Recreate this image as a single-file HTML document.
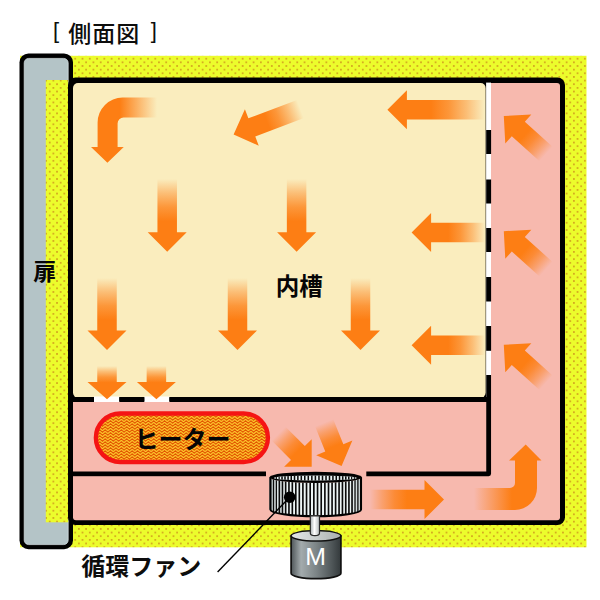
<!DOCTYPE html>
<html><head><meta charset="utf-8"><title>side view</title>
<style>html,body{margin:0;padding:0;background:#fff;font-family:"Liberation Sans",sans-serif}svg{display:block}</style>
</head><body>
<svg width="600" height="600" viewBox="0 0 600 600">
<defs>
<pattern id="dots" patternUnits="userSpaceOnUse" x="81.6" y="57.800000000000004" width="7.28" height="7.29"><rect width="7.28" height="7.29" fill="#ECFC2C"/><rect x="0" y="0" width="1.8" height="1.8" rx="0.8" fill="#F6A01E" fill-opacity="0.3"/><rect x="3.640" y="3.645" width="1.8" height="1.8" rx="0.8" fill="#F6A01E" fill-opacity="0.3"/><rect x="0.4" y="0.4" width="1" height="1" fill="#9C2A0C"/><rect x="4.040" y="4.045" width="1" height="1" fill="#9C2A0C"/></pattern>
<pattern id="zig" patternUnits="userSpaceOnUse" x="93" y="411" width="5.4" height="3"><rect width="5.4" height="3" fill="#FFCF30"/><path d="M-1.35,3.2L1.35,0.8L4.05,3.2L6.75,0.8" fill="none" stroke="#E25400" stroke-width="1.12"/><path d="M-1.35,0.2L1.35,-2.2L4.05,0.2L6.75,-2.2" fill="none" stroke="#E25400" stroke-width="1.12"/></pattern>
<pattern id="bars" patternUnits="userSpaceOnUse" x="269.6" y="0" width="2.2" height="10"><rect width="2.2" height="10" fill="#F4F4F4"/><rect x="0" width="1.1" height="10" fill="#111"/></pattern>
<linearGradient id="a1" gradientUnits="userSpaceOnUse" x1="0" y1="0" x2="72.70" y2="0"><stop offset="0" stop-color="#FD7E14" stop-opacity="0"/><stop offset="0.193" stop-color="#FD7E14" stop-opacity="0.42"/><stop offset="0.387" stop-color="#FD7E14" stop-opacity="0.78"/><stop offset="0.58" stop-color="#FD7E14" stop-opacity="1"/><stop offset="1" stop-color="#FD7E14" stop-opacity="1"/></linearGradient>
<linearGradient id="a2" gradientUnits="userSpaceOnUse" x1="0" y1="0" x2="72.70" y2="0"><stop offset="0" stop-color="#FD7E14" stop-opacity="0"/><stop offset="0.193" stop-color="#FD7E14" stop-opacity="0.42"/><stop offset="0.387" stop-color="#FD7E14" stop-opacity="0.78"/><stop offset="0.58" stop-color="#FD7E14" stop-opacity="1"/><stop offset="1" stop-color="#FD7E14" stop-opacity="1"/></linearGradient>
<linearGradient id="a3" gradientUnits="userSpaceOnUse" x1="0" y1="0" x2="72.00" y2="0"><stop offset="0" stop-color="#FD7E14" stop-opacity="0"/><stop offset="0.193" stop-color="#FD7E14" stop-opacity="0.42"/><stop offset="0.387" stop-color="#FD7E14" stop-opacity="0.78"/><stop offset="0.58" stop-color="#FD7E14" stop-opacity="1"/><stop offset="1" stop-color="#FD7E14" stop-opacity="1"/></linearGradient>
<linearGradient id="a4" gradientUnits="userSpaceOnUse" x1="0" y1="0" x2="72.00" y2="0"><stop offset="0" stop-color="#FD7E14" stop-opacity="0"/><stop offset="0.193" stop-color="#FD7E14" stop-opacity="0.42"/><stop offset="0.387" stop-color="#FD7E14" stop-opacity="0.78"/><stop offset="0.58" stop-color="#FD7E14" stop-opacity="1"/><stop offset="1" stop-color="#FD7E14" stop-opacity="1"/></linearGradient>
<linearGradient id="a5" gradientUnits="userSpaceOnUse" x1="0" y1="0" x2="72.00" y2="0"><stop offset="0" stop-color="#FD7E14" stop-opacity="0"/><stop offset="0.193" stop-color="#FD7E14" stop-opacity="0.42"/><stop offset="0.387" stop-color="#FD7E14" stop-opacity="0.78"/><stop offset="0.58" stop-color="#FD7E14" stop-opacity="1"/><stop offset="1" stop-color="#FD7E14" stop-opacity="1"/></linearGradient>
<linearGradient id="a6" gradientUnits="userSpaceOnUse" x1="0" y1="0" x2="33.20" y2="0"><stop offset="0" stop-color="#FD7E14" stop-opacity="0"/><stop offset="0.167" stop-color="#FD7E14" stop-opacity="0.42"/><stop offset="0.333" stop-color="#FD7E14" stop-opacity="0.78"/><stop offset="0.5" stop-color="#FD7E14" stop-opacity="1"/><stop offset="1" stop-color="#FD7E14" stop-opacity="1"/></linearGradient>
<linearGradient id="a7" gradientUnits="userSpaceOnUse" x1="0" y1="0" x2="33.20" y2="0"><stop offset="0" stop-color="#FD7E14" stop-opacity="0"/><stop offset="0.167" stop-color="#FD7E14" stop-opacity="0.42"/><stop offset="0.333" stop-color="#FD7E14" stop-opacity="0.78"/><stop offset="0.5" stop-color="#FD7E14" stop-opacity="1"/><stop offset="1" stop-color="#FD7E14" stop-opacity="1"/></linearGradient>
<linearGradient id="a8" gradientUnits="userSpaceOnUse" x1="0" y1="0" x2="97.10" y2="0"><stop offset="0" stop-color="#FD7E14" stop-opacity="0"/><stop offset="0.183" stop-color="#FD7E14" stop-opacity="0.42"/><stop offset="0.367" stop-color="#FD7E14" stop-opacity="0.78"/><stop offset="0.55" stop-color="#FD7E14" stop-opacity="1"/><stop offset="1" stop-color="#FD7E14" stop-opacity="1"/></linearGradient>
<linearGradient id="a9" gradientUnits="userSpaceOnUse" x1="0" y1="0" x2="73.40" y2="0"><stop offset="0" stop-color="#FD7E14" stop-opacity="0"/><stop offset="0.167" stop-color="#FD7E14" stop-opacity="0.42"/><stop offset="0.333" stop-color="#FD7E14" stop-opacity="0.78"/><stop offset="0.5" stop-color="#FD7E14" stop-opacity="1"/><stop offset="1" stop-color="#FD7E14" stop-opacity="1"/></linearGradient>
<linearGradient id="a10" gradientUnits="userSpaceOnUse" x1="0" y1="0" x2="73.40" y2="0"><stop offset="0" stop-color="#FD7E14" stop-opacity="0"/><stop offset="0.167" stop-color="#FD7E14" stop-opacity="0.42"/><stop offset="0.333" stop-color="#FD7E14" stop-opacity="0.78"/><stop offset="0.5" stop-color="#FD7E14" stop-opacity="1"/><stop offset="1" stop-color="#FD7E14" stop-opacity="1"/></linearGradient>
<linearGradient id="a11" gradientUnits="userSpaceOnUse" x1="0" y1="0" x2="71.56" y2="0"><stop offset="0" stop-color="#FD7E14" stop-opacity="0"/><stop offset="0.167" stop-color="#FD7E14" stop-opacity="0.42"/><stop offset="0.333" stop-color="#FD7E14" stop-opacity="0.78"/><stop offset="0.5" stop-color="#FD7E14" stop-opacity="1"/><stop offset="1" stop-color="#FD7E14" stop-opacity="1"/></linearGradient>
<linearGradient id="d0" gradientUnits="userSpaceOnUse" x1="0" y1="0" x2="56.86" y2="0"><stop offset="0" stop-color="#FD7E14" stop-opacity="0"/><stop offset="0.167" stop-color="#FD7E14" stop-opacity="0.42"/><stop offset="0.333" stop-color="#FD7E14" stop-opacity="0.78"/><stop offset="0.5" stop-color="#FD7E14" stop-opacity="1"/><stop offset="1" stop-color="#FD7E14" stop-opacity="1"/></linearGradient>
<linearGradient id="d1" gradientUnits="userSpaceOnUse" x1="0" y1="0" x2="56.86" y2="0"><stop offset="0" stop-color="#FD7E14" stop-opacity="0"/><stop offset="0.167" stop-color="#FD7E14" stop-opacity="0.42"/><stop offset="0.333" stop-color="#FD7E14" stop-opacity="0.78"/><stop offset="0.5" stop-color="#FD7E14" stop-opacity="1"/><stop offset="1" stop-color="#FD7E14" stop-opacity="1"/></linearGradient>
<linearGradient id="d2" gradientUnits="userSpaceOnUse" x1="0" y1="0" x2="56.86" y2="0"><stop offset="0" stop-color="#FD7E14" stop-opacity="0"/><stop offset="0.167" stop-color="#FD7E14" stop-opacity="0.42"/><stop offset="0.333" stop-color="#FD7E14" stop-opacity="0.78"/><stop offset="0.5" stop-color="#FD7E14" stop-opacity="1"/><stop offset="1" stop-color="#FD7E14" stop-opacity="1"/></linearGradient>
<linearGradient id="h1" gradientUnits="userSpaceOnUse" x1="0" y1="0" x2="46.81" y2="0"><stop offset="0" stop-color="#FD7E14" stop-opacity="0"/><stop offset="0.183" stop-color="#FD7E14" stop-opacity="0.42"/><stop offset="0.367" stop-color="#FD7E14" stop-opacity="0.78"/><stop offset="0.55" stop-color="#FD7E14" stop-opacity="1"/><stop offset="1" stop-color="#FD7E14" stop-opacity="1"/></linearGradient>
<linearGradient id="h2" gradientUnits="userSpaceOnUse" x1="0" y1="0" x2="46.70" y2="0"><stop offset="0" stop-color="#FD7E14" stop-opacity="0"/><stop offset="0.183" stop-color="#FD7E14" stop-opacity="0.42"/><stop offset="0.367" stop-color="#FD7E14" stop-opacity="0.78"/><stop offset="0.55" stop-color="#FD7E14" stop-opacity="1"/><stop offset="1" stop-color="#FD7E14" stop-opacity="1"/></linearGradient>
<linearGradient id="b1" gradientUnits="userSpaceOnUse" x1="0" y1="0" x2="74.00" y2="0"><stop offset="0" stop-color="#FD7E14" stop-opacity="0"/><stop offset="0.167" stop-color="#FD7E14" stop-opacity="0.42"/><stop offset="0.333" stop-color="#FD7E14" stop-opacity="0.78"/><stop offset="0.5" stop-color="#FD7E14" stop-opacity="1"/><stop offset="1" stop-color="#FD7E14" stop-opacity="1"/></linearGradient>
<linearGradient id="c1" gradientUnits="userSpaceOnUse" x1="157" y1="0" x2="97" y2="0"><stop offset="0" stop-color="#FD7E14" stop-opacity="0"/><stop offset="0.62" stop-color="#FD7E14"/><stop offset="1" stop-color="#FD7E14"/></linearGradient>
<linearGradient id="c2" gradientUnits="userSpaceOnUse" x1="474" y1="0" x2="537" y2="0"><stop offset="0" stop-color="#FD7E14" stop-opacity="0"/><stop offset="0.6" stop-color="#FD7E14"/><stop offset="1" stop-color="#FD7E14"/></linearGradient>
<clipPath id="fanclip"><path d="M269.4,477.3A46.3,5.6 0 0 0 362.0,477.3L362.0,509.5A46.3,6.8 0 0 1 269.4,509.5Z"/></clipPath>
<clipPath id="fantop"><ellipse cx="315.4" cy="478" rx="41.6" ry="2.45"/></clipPath>
<linearGradient id="fang" x1="0" y1="0" x2="1" y2="0"><stop offset="0" stop-color="#b4bebe"/><stop offset="0.15" stop-color="#eef6f6"/><stop offset="0.85" stop-color="#eef6f6"/><stop offset="1" stop-color="#b4bebe"/></linearGradient>
<linearGradient id="shaft" x1="0" y1="0" x2="1" y2="0"><stop offset="0" stop-color="#a9b0b2"/><stop offset="0.45" stop-color="#ffffff"/><stop offset="1" stop-color="#b4babb"/></linearGradient>
<linearGradient id="motor" x1="0" y1="0" x2="1" y2="0"><stop offset="0" stop-color="#4e5558"/><stop offset="0.2" stop-color="#a3abad"/><stop offset="0.5" stop-color="#7d8587"/><stop offset="0.8" stop-color="#52595b"/><stop offset="1" stop-color="#33393b"/></linearGradient>
<linearGradient id="mtop" x1="0" y1="0" x2="1" y2="0"><stop offset="0" stop-color="#e4e8e8"/><stop offset="0.5" stop-color="#c8cdcd"/><stop offset="1" stop-color="#a9afaf"/></linearGradient>
</defs>
<rect width="600" height="600" fill="#fff"/>
<rect x="20" y="55.8" width="566.5" height="491.5" fill="url(#dots)"/>
<rect x="19.5" y="53.4" width="53.5" height="495.8" rx="9" ry="9" fill="#000"/>
<rect x="24.2" y="58.4" width="44" height="486.2" rx="4.5" ry="4.5" fill="#B4C4C7" stroke="#DCE6EA" stroke-width="0.7"/>
<rect x="45.8" y="80" width="22.4" height="442.3" fill="url(#dots)"/>
<rect x="68" y="77.6" width="497" height="447.4" rx="7.5" ry="7.5" fill="#000"/>
<rect x="73" y="83" width="487" height="437.2" rx="3" ry="3" fill="#F7B9AE"/>
<rect x="72" y="82" width="120" height="319" fill="#000"/><rect x="486" y="82.6" width="5" height="318" fill="#fff"/><rect x="470" y="82" width="16.1" height="318" fill="#000"/>
<rect x="73" y="83" width="412.65" height="314.6" rx="5" ry="5" fill="#FAEDBE"/>
<rect x="94" y="396.5" width="25.3" height="5.5" fill="#fff"/><rect x="144.3" y="396.5" width="25.1" height="5.5" fill="#fff"/>
<rect x="72" y="397" width="22.00" height="5" fill="#000"/>
<rect x="119.3" y="397" width="25.00" height="5" fill="#000"/>
<rect x="169.4" y="397" width="321.60" height="5" fill="#000"/>
<rect x="486.2" y="130" width="4.9" height="24.00" fill="#000"/>
<rect x="486.2" y="179.5" width="4.9" height="24.00" fill="#000"/>
<rect x="486.2" y="228" width="4.9" height="24.00" fill="#000"/>
<rect x="486.2" y="277" width="4.9" height="24.50" fill="#000"/>
<rect x="486.2" y="326" width="4.9" height="24.80" fill="#000"/>
<rect x="72" y="471.5" width="194" height="4.7" fill="#000"/>
<path d="M366.3,473.85L488.65,473.85L488.65,375" fill="none" stroke="#000" stroke-width="4.8" stroke-linejoin="round"/>
<rect x="95.9" y="413.5" width="172" height="48.5" rx="24.25" ry="24.25" fill="url(#zig)" stroke="#F51414" stroke-width="4.4"/>
<path transform="translate(167.20,179.00) rotate(90.00)" d="M0,-9.75L53.20,-9.75L53.20,-19.5L72.70,0L53.20,19.5L53.20,9.75L0,9.75Z" fill="url(#a1)"/>
<path transform="translate(296.60,179.00) rotate(90.00)" d="M0,-9.75L53.20,-9.75L53.20,-19.5L72.70,0L53.20,19.5L53.20,9.75L0,9.75Z" fill="url(#a2)"/>
<path transform="translate(107.00,278.00) rotate(90.00)" d="M0,-9.75L52.50,-9.75L52.50,-19.5L72.00,0L52.50,19.5L52.50,9.75L0,9.75Z" fill="url(#a3)"/>
<path transform="translate(237.50,278.00) rotate(90.00)" d="M0,-9.75L52.50,-9.75L52.50,-19.5L72.00,0L52.50,19.5L52.50,9.75L0,9.75Z" fill="url(#a4)"/>
<path transform="translate(360.50,278.00) rotate(90.00)" d="M0,-9.75L52.50,-9.75L52.50,-19.5L72.00,0L52.50,19.5L52.50,9.75L0,9.75Z" fill="url(#a5)"/>
<path transform="translate(107.00,366.00) rotate(90.00)" d="M0,-9.75L16.00,-9.75L16.00,-19.5L33.20,0L16.00,19.5L16.00,9.75L0,9.75Z" fill="url(#a6)"/>
<path transform="translate(156.40,366.00) rotate(90.00)" d="M0,-9.75L16.00,-9.75L16.00,-19.5L33.20,0L16.00,19.5L16.00,9.75L0,9.75Z" fill="url(#a7)"/>
<path transform="translate(484.50,109.80) rotate(180.00)" d="M0,-9.75L77.60,-9.75L77.60,-19.5L97.10,0L77.60,19.5L77.60,9.75L0,9.75Z" fill="url(#a8)"/>
<path transform="translate(485.00,232.60) rotate(180.00)" d="M0,-9.75L53.90,-9.75L53.90,-19.5L73.40,0L53.90,19.5L53.90,9.75L0,9.75Z" fill="url(#a9)"/>
<path transform="translate(485.00,345.30) rotate(180.00)" d="M0,-9.75L53.90,-9.75L53.90,-19.5L73.40,0L53.90,19.5L53.90,9.75L0,9.75Z" fill="url(#a10)"/>
<path transform="translate(300.50,109.00) rotate(159.21)" d="M0,-9.75L52.06,-9.75L52.06,-19.5L71.56,0L52.06,19.5L52.06,9.75L0,9.75Z" fill="url(#a11)"/>
<path transform="translate(546.10,154.00) rotate(-138.07)" d="M0,-9.75L37.36,-9.75L37.36,-19.5L56.86,0L37.36,19.5L37.36,9.75L0,9.75Z" fill="url(#d0)"/>
<path transform="translate(546.10,269.20) rotate(-138.07)" d="M0,-9.75L37.36,-9.75L37.36,-19.5L56.86,0L37.36,19.5L37.36,9.75L0,9.75Z" fill="url(#d1)"/>
<path transform="translate(546.10,382.80) rotate(-138.07)" d="M0,-9.75L37.36,-9.75L37.36,-19.5L56.86,0L37.36,19.5L37.36,9.75L0,9.75Z" fill="url(#d2)"/>
<path transform="translate(278.60,433.70) rotate(45.00)" d="M0,-9.75L27.31,-9.75L27.31,-19.5L46.81,0L27.31,19.5L27.31,9.75L0,9.75Z" fill="url(#h1)"/>
<path transform="translate(324.10,422.70) rotate(67.99)" d="M0,-9.75L27.20,-9.75L27.20,-19.5L46.70,0L27.20,19.5L27.20,9.75L0,9.75Z" fill="url(#h2)"/>
<path transform="translate(370.00,499.50) rotate(0.00)" d="M0,-9.75L54.50,-9.75L54.50,-19.5L74.00,0L54.50,19.5L54.50,9.75L0,9.75Z" fill="url(#b1)"/>
<path d="M157,97.6L122.6,97.6A25,25 0 0 0 97.6,122.6L97.6,147L91,147L107.4,162.7L123.8,147L117.6,147L117.6,123.6A6,6 0 0 1 123.6,117.6L157,117.6Z" fill="url(#c1)"/>
<path d="M474,510L515,510A22,22 0 0 0 537,488L537,460.6L541.5,460.6L525.7,444.4L509,460.6L515,460.6L515,483A5,5 0 0 1 510,488L474,488Z" fill="url(#c2)"/>
<g clip-path="url(#fanclip)"><rect x="268" y="470" width="96" height="50" fill="url(#fang)"/><path d="M270.09,470h1.30v50h-1.30zM272.85,470h1.30v50h-1.30zM275.73,470h1.30v50h-1.30zM278.54,470h1.65v50h-1.65zM281.64,470h1.65v50h-1.65zM284.83,470h1.65v50h-1.65zM288.13,470h1.65v50h-1.65zM291.51,470h1.65v50h-1.65zM294.97,470h1.65v50h-1.65zM298.49,470h1.65v50h-1.65zM302.07,470h1.65v50h-1.65zM305.70,470h1.65v50h-1.65zM309.36,470h1.65v50h-1.65zM313.03,470h1.65v50h-1.65zM316.72,470h1.65v50h-1.65zM320.39,470h1.65v50h-1.65zM324.05,470h1.65v50h-1.65zM327.68,470h1.65v50h-1.65zM331.26,470h1.65v50h-1.65zM334.78,470h1.65v50h-1.65zM338.24,470h1.65v50h-1.65zM341.62,470h1.65v50h-1.65zM344.92,470h1.65v50h-1.65zM348.11,470h1.65v50h-1.65zM351.21,470h1.65v50h-1.65zM354.37,470h1.30v50h-1.30zM357.25,470h1.30v50h-1.30zM360.01,470h1.30v50h-1.30z" fill="#0a0a0a"/></g>
<path d="M270.29999999999995,477.3L270.29999999999995,509.5A45.4,6.8 0 0 0 361.1,509.5L361.1,477.3" fill="none" stroke="#000" stroke-width="1.9"/>
<ellipse cx="315.7" cy="477.3" rx="46.3" ry="5.6" fill="#000"/>
<g clip-path="url(#fantop)"><rect x="268" y="470" width="96" height="14" fill="#eaf3f3"/><path d="M275.82,470h1.20v14h-1.20zM278.56,470h1.20v14h-1.20zM281.25,470h1.55v14h-1.55zM284.22,470h1.55v14h-1.55zM287.30,470h1.55v14h-1.55zM290.48,470h1.55v14h-1.55zM293.75,470h1.55v14h-1.55zM297.10,470h1.55v14h-1.55zM300.52,470h1.55v14h-1.55zM303.99,470h1.55v14h-1.55zM307.51,470h1.55v14h-1.55zM311.06,470h1.55v14h-1.55zM314.62,470h1.55v14h-1.55zM318.19,470h1.55v14h-1.55zM321.74,470h1.55v14h-1.55zM325.26,470h1.55v14h-1.55zM328.73,470h1.55v14h-1.55zM332.15,470h1.55v14h-1.55zM335.50,470h1.55v14h-1.55zM338.77,470h1.55v14h-1.55zM341.95,470h1.55v14h-1.55zM345.03,470h1.55v14h-1.55zM348.00,470h1.55v14h-1.55zM351.04,470h1.20v14h-1.20zM353.78,470h1.20v14h-1.20zM356.40,470h1.20v14h-1.20z" fill="#0a0a0a"/></g>
<path d="M291.1,536L291.1,573.3A24.9,5.4 0 0 0 340.9,573.3L340.9,536Z" fill="url(#motor)" stroke="#111" stroke-width="1.7"/>
<ellipse cx="316" cy="535.8" rx="24.9" ry="5.2" fill="url(#mtop)" stroke="#111" stroke-width="1.5"/>
<path d="M310.3,515.8L310.3,533A4.6,2.6 0 0 0 319.5,533L319.5,515.8Z" fill="url(#shaft)" stroke="#2a2a2a" stroke-width="1.2"/>
<text transform="translate(315.5,565.2) scale(1.08,1)" x="0" y="0" font-family="Liberation Sans, sans-serif" font-size="23" fill="#fff" text-anchor="middle">M</text>
<line x1="289.7" y1="497.2" x2="217.6" y2="572" stroke="#000" stroke-width="1.4"/>
<circle cx="289.7" cy="497.2" r="5.8" fill="#000"/>
<text x="104.3" y="41.5" font-family="'Liberation Sans', 'Noto Sans CJK JP', sans-serif" font-size="23" font-weight="500" letter-spacing="1" fill="#0d0d0d" text-anchor="middle">側面図</text>
<text x="141.2" y="574.5" font-family="'Liberation Sans', 'Noto Sans CJK JP', sans-serif" font-size="24" font-weight="bold" fill="#0d0d0d" text-anchor="middle">循環ファン</text>
<text x="44.8" y="279.5" font-family="'Liberation Sans', 'Noto Sans CJK JP', sans-serif" font-size="23" font-weight="bold" fill="#060606" text-anchor="middle">扉</text>
<text x="299.3" y="294.5" font-family="'Liberation Sans', 'Noto Sans CJK JP', sans-serif" font-size="23.5" font-weight="bold" fill="#060606" text-anchor="middle">内槽</text>
<text x="182.5" y="447.5" font-family="'Liberation Sans', 'Noto Sans CJK JP', sans-serif" font-size="24" font-weight="bold" fill="#060606" text-anchor="middle">ヒーター</text>
<text x="53" y="37.9" font-family="'Liberation Sans', 'Noto Sans CJK JP', sans-serif" font-size="22" fill="#0d0d0d">[</text>
<text x="150.7" y="37.9" font-family="'Liberation Sans', 'Noto Sans CJK JP', sans-serif" font-size="22" fill="#0d0d0d">]</text>
</svg>
</body></html>
